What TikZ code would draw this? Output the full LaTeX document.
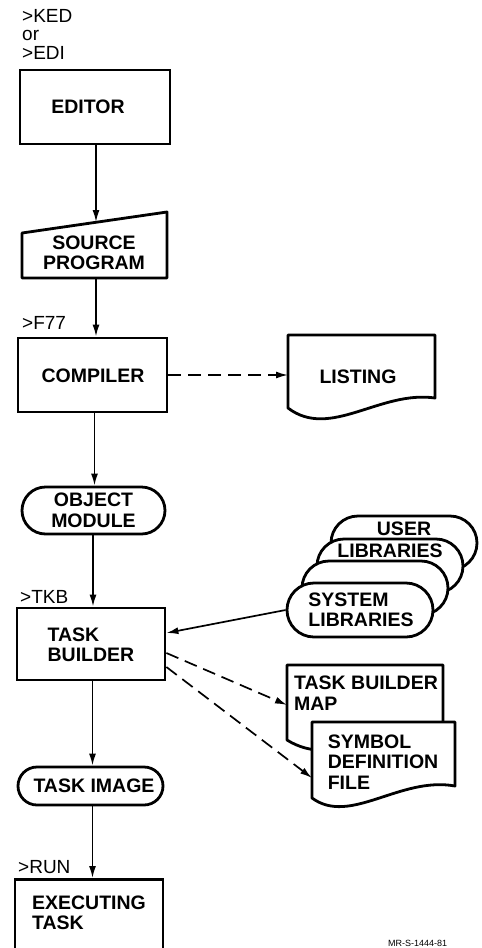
\documentclass[tikz,border=0pt]{standalone}
\usepackage{fontspec}
\setmainfont{Liberation Sans}
\usetikzlibrary{shapes.misc,arrows.meta,calc}
\begin{document}
\begin{tikzpicture}[x=1pt,y=-1pt,
  box/.style={draw, line width=2.8pt, rectangle, inner sep=0pt},
  term/.style={draw, line width=2.8pt, rounded rectangle, inner sep=0pt, fill=white},
  ghost/.style={inner sep=0pt, outer sep=0pt},
  lbl/.style={font=\fontsize{19.5}{20.5}\selectfont\bfseries, align=left, inner sep=0pt},
  cmd/.style={font=\fontsize{19}{18.5}\selectfont, align=left, inner sep=0pt},
  shp/.style={draw, line width=2.8pt, fill=white, line join=round},
  flow/.style={line width=1.7pt, -{Latex[length=12pt,width=7pt]}},
  dflow/.style={flow, dash pattern=on 13pt off 7pt},
]
\useasboundingbox (0,0) rectangle (482,948);
\clip (0,0) rectangle (482,948);

% command labels
\node[cmd, anchor=north west] (cmdedit) at (22,9) {>KED\\or\\>EDI};
\node[cmd, anchor=west] (cmdf77) at (22,323) {>F77};
\node[cmd, anchor=west] (cmdtkb) at (20,597) {>TKB};
\node[cmd, anchor=west] (cmdrun) at (18,867) {>RUN};

% editor
\node[box, minimum width=150pt, minimum height=74pt] (editor) at (95,107) {};
\node[lbl] (editortext) at (88,107) {EDITOR};

% source program (manual input)
\node[ghost, minimum width=145pt, minimum height=66pt] (src) at (94.5,245) {};
\draw[shp] (22,233) -- (167,212) -- (167,278) -- (22,278) -- cycle;
\coordinate (srctop) at (96,222);
\node[lbl, align=center] (srctext) at (94,253) {SOURCE\\PROGRAM};

% compiler
\node[box, minimum width=149pt, minimum height=74pt] (compiler) at (92.5,375) {};
\node[lbl] (compilertext) at (93,376) {COMPILER};

% listing (document)
\node[ghost, minimum width=147pt, minimum height=80pt] (listing) at (361.5,375) {};
\draw[shp] (288,335) -- (435,335) -- (435,398) .. controls (380,390) and (330,440) .. (288,408) -- cycle;
\node[lbl] (listingtext) at (358,377) {LISTING};

% object module
\node[term, minimum width=143pt, minimum height=47pt, font=\fontsize{19.5}{20.5}\selectfont\bfseries, align=center] (objmod) at (93.5,510.5) {OBJECT\\MODULE};

% task builder
\node[box, minimum width=148pt, minimum height=72pt] (taskbuilder) at (91,644) {};
\node[lbl] (tbtext) at (91,645) {TASK\\BUILDER};

% library stack
\node[term, minimum width=146pt, minimum height=54pt] (lib1) at (404,543) {};
\node[term, minimum width=146pt, minimum height=54pt] (lib2) at (390,566) {};
\node[term, minimum width=146pt, minimum height=54pt] (lib3) at (375,588) {};
\node[term, minimum width=146pt, minimum height=54pt] (syslib) at (360,610) {};
\node[lbl] (usertext) at (404,529) {USER};
\node[lbl] (userlibtext) at (390,551) {LIBRARIES};
\node[lbl] (systext) at (361,610) {SYSTEM\\LIBRARIES};

% task builder map (document)
\node[ghost, minimum width=156pt, minimum height=80pt] (tbmap) at (365,705) {};
\draw[shp] (287,665) -- (443,665) -- (443,735) .. controls (390,725) and (335,770) .. (287,740) -- cycle;
\node[lbl] (tbmaptext) at (366,693) {TASK BUILDER\\MAP};

% symbol definition file (document)
\node[ghost, minimum width=143pt, minimum height=78pt] (symdef) at (383.5,761) {};
\draw[shp] (312,722) -- (455,722) -- (455,786) .. controls (400,776) and (350,826) .. (312,798) -- cycle;
\node[lbl] (symdeftext) at (383,762) {SYMBOL\\DEFINITION\\FILE};

% task image
\node[term, minimum width=145pt, minimum height=38pt, font=\fontsize{19.5}{20.5}\selectfont\bfseries] (taskimage) at (90.5,786) {\hspace*{7pt}TASK IMAGE};

% executing task
\node[box, minimum width=148pt, minimum height=100pt, anchor=north] (exec) at (89,878) {};
\node[lbl] (exectext) at (89,913) {EXECUTING\\TASK};

% footer
\node[font=\fontsize{9}{10}\selectfont, anchor=north west, inner sep=0pt] (ref) at (388,940) {MR-S-1444-81};

% connectors
\draw[flow] (editor.south -| srctop) -- (srctop);
\draw[flow] (src.south -| srctop) -- (compiler.north -| srctop);
\draw[dflow] (compiler.east) -- (listing.west);
\draw[flow] ([xshift=2pt]compiler.south) -- ([xshift=2pt]compiler.south |- objmod.north);
\draw[flow] (objmod.south -| taskbuilder.south) ++(2,0) -- ([xshift=2pt]taskbuilder.north);
\draw[flow] (syslib.west) -- ([yshift=11pt]taskbuilder.east);
\draw[dflow] ([yshift=-9pt]taskbuilder.east) -- (tbmap.west);
\draw[dflow] ([yshift=-23pt]taskbuilder.east) -- ([yshift=-17pt]symdef.west);
\draw[flow] ([xshift=1.5pt]taskbuilder.south) -- ([xshift=1.5pt]taskbuilder.south |- taskimage.north);
\draw[flow] ([xshift=2pt]taskimage.south) -- ([xshift=2pt]taskimage.south |- exec.north);
\end{tikzpicture}
\end{document}
